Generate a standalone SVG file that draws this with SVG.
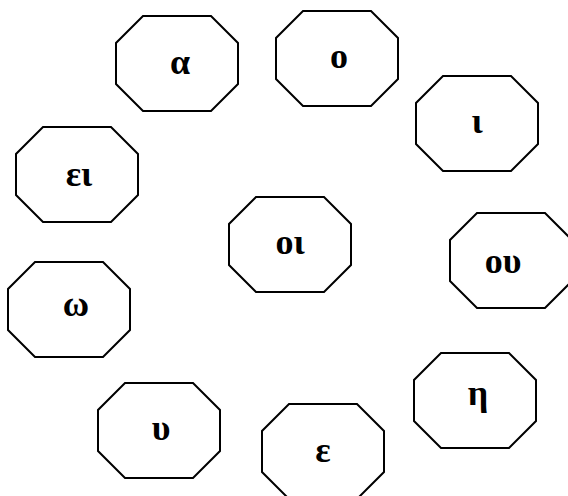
<svg xmlns="http://www.w3.org/2000/svg" xmlns:xlink="http://www.w3.org/1999/xlink" width="568" height="496" viewBox="0 0 568 496">
<style>
.oct{fill:#fff;stroke:#000;stroke-width:2;stroke-linejoin:miter}
.lbl{font-family:"Liberation Serif","Times New Roman",serif;font-weight:bold;font-size:36px;text-anchor:middle;fill:#000}
</style>
<defs>
<polygon id="octShape" class="oct" points="27,0 95,0 122,27 122,68 95,95 27,95 0,68 0,27"/>
</defs>
<rect width="568" height="496" fill="#fff"/>
<g id="connectors"></g>
<g id="node-alpha"><use xlink:href="#octShape" x="116" y="16"/><text class="lbl" x="180" y="74">α</text></g>
<g id="node-o"><use xlink:href="#octShape" x="276" y="11"/><text class="lbl" x="339" y="68">ο</text></g>
<g id="node-i"><use xlink:href="#octShape" x="416" y="76"/><text class="lbl" x="477" y="133">ι</text></g>
<g id="node-ei"><use xlink:href="#octShape" x="16" y="127"/><text class="lbl" x="79" y="186">ει</text></g>
<g id="node-oi"><use xlink:href="#octShape" x="229" y="197"/><text class="lbl" x="290" y="254">οι</text></g>
<g id="node-ou"><use xlink:href="#octShape" x="450" y="213"/><text class="lbl" x="503" y="273">ου</text></g>
<g id="node-omega"><use xlink:href="#octShape" x="8" y="262"/><text class="lbl" x="76" y="316">ω</text></g>
<g id="node-eta"><use xlink:href="#octShape" x="414" y="353"/><text class="lbl" x="478" y="405">η</text></g>
<g id="node-upsilon"><use xlink:href="#octShape" x="98" y="383"/><text class="lbl" x="161" y="440">υ</text></g>
<g id="node-epsilon"><use xlink:href="#octShape" x="262" y="404"/><text class="lbl" x="323" y="462">ε</text></g>
</svg>
